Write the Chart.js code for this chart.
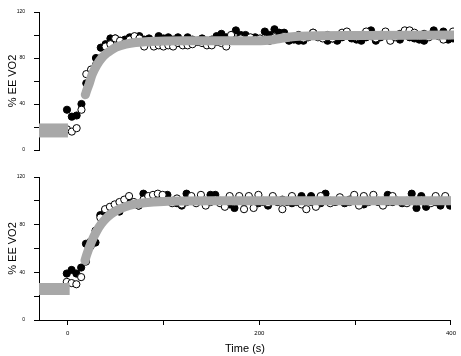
<!DOCTYPE html>
<html>
<head>
<meta charset="utf-8">
<script src="https://cdn.jsdelivr.net/npm/chart.js@4"></script>
<style>
  html, body { margin: 0; padding: 0; background: #fff; }
  #wrap { position: relative; width: 461px; height: 356px; }
  #topBox { position: absolute; left: 0; top: 0; width: 461px; height: 165px; }
  #botBox { position: absolute; left: 0; top: 165px; width: 461px; height: 191px; }
</style>
</head>
<body>
<div id="wrap">
  <div id="topBox"><canvas id="topChart"></canvas></div>
  <div id="botBox"><canvas id="botChart"></canvas></div>
</div>
<script>
// sample times (s), shared by both panels
const time = [-1, 4, 9, 14, 19, 24, 29, 34, 39, 44, 49, 54, 59, 64, 69, 74, 79, 84, 89, 94,
  99, 104, 109, 114, 119, 124, 129, 134, 139, 144, 149, 154, 159, 164, 169, 174, 179, 184, 189, 194,
  199, 204, 209, 214, 219, 224, 229, 234, 239, 244, 249, 254, 259, 264, 269, 274, 279, 284, 289, 294,
  299, 304, 309, 314, 319, 324, 329, 334, 339, 344, 349, 354, 359, 364, 369, 374, 379, 384, 389, 394, 399];

// top panel
const topFilled = [35, 29, 30, 40, 58, 69, 80, 89, 92, 97, 97, 95, 96, 98, 94, 99, 96, 97, 94, 99,
  97, 98, 96, 98, 95, 98, 96, 94, 97, 95, 96, 99, 101, 98, 97, 104, 100, 100, 97, 98,
  96, 103, 100, 105, 102, 102, 95, 96, 95, 95, 98, 102, 99, 98, 95, 97, 95, 98, 100, 97,
  96, 95, 98, 104, 95, 98, 100, 97, 99, 96, 100, 98, 97, 96, 95, 99, 104, 100, 103, 96, 97];
const topOpen = [18, 16, 19, 35, 66, 70, 74, 80, 90, 92, 97, 95, 93, 96, 99, 97, 90, 94, 90, 91,
  90, 91, 90, 93, 91, 91, 92, 95, 93, 91, 91, 94, 93, 90, 100, 96, 97, 95, 98, 96,
  97, 96, 95, 98, 97, 99, 97, 98, 100, 97, 99, 102, 98, 97, 100, 97, 99, 102, 103, 99,
  98, 100, 103, 99, 97, 100, 103, 95, 98, 101, 104, 104, 102, 99, 101, 98, 100, 99, 96, 99, 103];
const topBaseTime = [-30, 0];
const topBase = [17, 17];
const topFitTime = [18, 20, 22, 25, 30, 35, 40, 45, 50, 60, 70, 80, 100, 120, 150, 200, 210, 220, 230, 240, 300, 400];
const topFit = [48, 53, 57.5, 65.5, 74, 80, 84, 87, 89.4, 92, 93.5, 94.2, 94.8, 95, 95, 95, 95.6, 97, 98.3, 99, 99.5, 100];

// bottom panel
const botFilled = [39, 42, 39, 44, 64, 66, 65, 88, 92, 94, 95, 91, 97, 100, 98, 96, 106, 100, 104, 105,
  101, 105, 100, 98, 96, 106, 100, 99, 101, 100, 105, 105, 100, 99, 97, 94, 100, 99, 101, 100,
  98, 100, 96, 100, 99, 101, 100, 98, 99, 104, 100, 104, 99, 98, 106, 100, 99, 100, 98, 101,
  100, 99, 97, 100, 101, 99, 100, 105, 99, 100, 98, 100, 106, 94, 104, 95, 100, 99, 96, 100, 96];
const botOpen = [32, 31, 30, 36, 49, 62, 75, 86, 93, 95, 97, 99, 101, 104, 99, 96, 101, 104, 105, 106,
  105, 100, 98, 102, 97, 99, 104, 98, 105, 96, 99, 101, 98, 95, 104, 99, 104, 93, 104, 94,
  105, 99, 98, 104, 100, 93, 99, 104, 100, 97, 93, 99, 95, 104, 100, 98, 99, 103, 100, 99,
  105, 96, 104, 99, 105, 100, 96, 99, 104, 100, 99, 98, 100, 99, 101, 99, 98, 104, 100, 104, 100];
const botBaseTime = [-30, 2];
const botBase = [26, 26];
const botFitTime = [18, 20, 25, 30, 35, 40, 45, 50, 60, 70, 80, 100, 150, 400];
const botFit = [50, 55.3, 66.1, 74.3, 80.6, 85.3, 88.8, 91.5, 95.1, 97.2, 98.4, 99.5, 100, 100];

const yTickValues = [0, 20, 40, 60, 80, 100, 120];
const xTickValues = [0, 100, 200, 300, 400];

const FONT = 'Arial, "Liberation Sans", sans-serif';
const GRAY = '#a8a8a8';

function pts(xs, ys) {
  return xs.map((x, i) => ({ x: x, y: ys[i] }));
}

function buildDatasets(filled, open, baseT, base, fitT, fit, baseWidth) {
  return [
    {
      type: 'line', data: pts(fitT, fit), borderColor: GRAY, borderWidth: 9,
      pointRadius: 0, cubicInterpolationMode: 'monotone', borderCapStyle: 'round', fill: false
    },
    {
      type: 'line', data: pts(baseT, base), borderColor: GRAY, borderWidth: baseWidth,
      pointRadius: 0, fill: false
    },
    {
      type: 'scatter', data: pts(time, open), backgroundColor: '#fff', borderColor: '#000',
      borderWidth: 1, pointRadius: 3.6
    },
    {
      type: 'scatter', data: pts(time, filled), backgroundColor: '#000', borderColor: '#000',
      borderWidth: 1, pointRadius: 3.6
    }
  ];
}

function yAxis() {
  return {
    type: 'linear', min: 0, max: 120,
    afterBuildTicks: (s) => { s.ticks = yTickValues.map(v => ({ value: v })); },
    afterFit: (s) => { s.width = 39; },
    border: { display: true, color: '#000', width: 1 },
    grid: { display: true, drawOnChartArea: false, drawTicks: true, tickLength: 5, color: '#000' },
    ticks: {
      color: '#000', padding: 9, font: { family: FONT, size: 5 },
      callback: (v) => (v % 40 === 0 ? String(v) : '')
    },
    title: {
      display: true, text: '% EE VO2', color: '#000',
      font: { family: FONT, size: 11 }, padding: { top: 6, bottom: 0 }
    }
  };
}

function makeChart(id, datasets, showX, padding) {
  return new Chart(document.getElementById(id), {
    data: { datasets: datasets },
    options: {
      responsive: true,
      maintainAspectRatio: false,
      animation: false,
      events: [],
      layout: { padding: padding },
      plugins: { legend: { display: false }, tooltip: { enabled: false } },
      scales: {
        x: {
          type: 'linear', min: -30, max: 400, display: showX,
          afterBuildTicks: (s) => { s.ticks = xTickValues.map(v => ({ value: v })); },
          afterFit: (s) => { s.height = showX ? 36 : 0; },
          border: { display: true, color: '#000', width: 1 },
          grid: { display: true, drawOnChartArea: false, drawTicks: true, tickLength: 5, color: '#000' },
          ticks: {
            color: '#000', padding: 5, maxRotation: 0, font: { family: FONT, size: 6 },
            callback: (v) => (v % 200 === 0 ? String(v) : '')
          },
          title: {
            display: true, text: 'Time (s)', color: '#000',
            font: { family: FONT, size: 11 }, padding: { top: 0, bottom: 0 }
          }
        },
        y: yAxis()
      }
    }
  });
}

makeChart('topChart', buildDatasets(topFilled, topOpen, topBaseTime, topBase, topFitTime, topFit, 14),
  false, { top: 7, right: 7, bottom: 15, left: 0 });
makeChart('botChart', buildDatasets(botFilled, botOpen, botBaseTime, botBase, botFitTime, botFit, 12),
  true, { top: 12, right: 7, bottom: 0, left: 0 });
</script>
</body>
</html>
